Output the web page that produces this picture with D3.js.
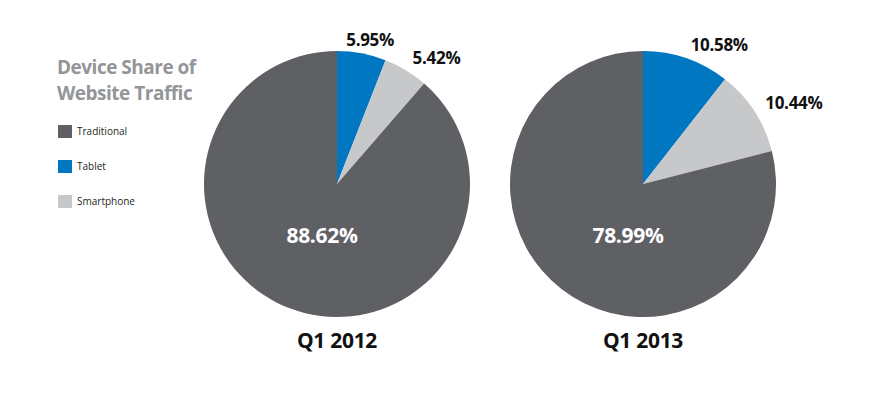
<!DOCTYPE html>
<html>
<head>
<meta charset="utf-8">
<script src="https://cdn.jsdelivr.net/npm/d3@7"></script>
<style>
  body { margin: 0; background: #fff; }
  text { font-family: "Open Sans", sans-serif; }
</style>
</head>
<body>
<div id="chart"></div>
<script>
// Canvas size
var w = 872;
var h = 395;

// Data
var categories = ["Tablet", "Smartphone", "Traditional"];
var legendOrder = ["Traditional", "Tablet", "Smartphone"];
var titleLines = ["Device Share of", "Website Traffic"];
var periods = ["Q1 2012", "Q1 2013"];
var share2012 = [5.95, 5.42, 88.62];
var share2013 = [10.58, 10.44, 78.99];
var colours = ["#0077c0", "#c7c8ca", "#5f6064"];

var seriesList = [share2012, share2013];

var color = d3.scaleOrdinal()
  .domain(categories)
  .range(colours);

// pie centres spread across the right part
var xScale = d3.scalePoint()
  .domain(periods)
  .range([337, 643]);

var cy = 184;
var radius = 133;

var svg = d3.select("#chart")
  .append("svg")
  .attr("width", w)
  .attr("height", h);

// Title, one text per line
svg.selectAll("text.title")
  .data(titleLines)
  .join("text")
  .attr("class", "title")
  .attr("x", 57)
  .attr("y", function(d, i) { return 74 + i * 26; })
  .attr("fill", "#939598")
  .attr("font-size", 19)
  .attr("font-weight", 700)
  .attr("letter-spacing", -0.5)
  .text(function(d) { return d; });

// Legend
var legend = svg.selectAll("g.legend")
  .data(legendOrder)
  .join("g")
  .attr("class", "legend")
  .attr("transform", function(d, i) { return "translate(58," + (125 + i * 35) + ")"; });

legend.append("rect")
  .attr("width", 14)
  .attr("height", 13)
  .attr("fill", function(d) { return color(d); });

legend.append("text")
  .attr("x", 19)
  .attr("y", 10)
  .attr("font-size", 10)
  .attr("fill", "#231f20")
  .text(function(d) { return d; });

var pie = d3.pie()
  .sort(null)
  .value(function(d) { return d.value; });

var arc = d3.arc()
  .innerRadius(0)
  .outerRadius(radius);

var labelArc = d3.arc()
  .innerRadius(146)
  .outerRadius(146);

seriesList.forEach(function(values, k) {
  var rows = categories.map(function(c, i) { return { name: c, value: values[i] }; });
  var arcs = pie(rows);

  var g = svg.append("g")
    .attr("transform", "translate(" + xScale(periods[k]) + "," + cy + ")");

  g.selectAll("path")
    .data(arcs)
    .join("path")
    .attr("d", arc)
    .attr("fill", function(d) { return color(d.data.name); });

  // small slice labels outside
  g.selectAll("text.outer")
    .data(arcs.filter(function(d) { return d.data.name != "Traditional"; }))
    .join("text")
    .attr("class", "outer")
    .attr("transform", function(d) {
      var c = labelArc.centroid(d);
      var mid = (d.startAngle + d.endAngle) / 2;
      // near the top the label sits centred a little to the right
      if (mid < 0.25) c[0] += 6;
      return "translate(" + c[0] + "," + c[1] + ")";
    })
    .attr("dy", "0.3em")
    .attr("text-anchor", function(d) {
      var mid = (d.startAngle + d.endAngle) / 2;
      return mid < 0.25 ? "middle" : "start";
    })
    .attr("font-size", 17)
    .attr("font-weight", 700)
    .attr("letter-spacing", -0.3)
    .attr("fill", "#111")
    .text(function(d) { return d.data.value.toFixed(2) + "%"; });

  // big slice label inside
  var big = arcs[2];
  g.append("text")
    .attr("x", -15)
    .attr("y", 59)
    .attr("text-anchor", "middle")
    .attr("font-size", 21)
    .attr("font-weight", 700)
    .attr("letter-spacing", -0.3)
    .attr("fill", "#fff")
    .text(big.data.value.toFixed(2) + "%");

  // period label under pie
  g.append("text")
    .attr("x", 0)
    .attr("y", 164)
    .attr("text-anchor", "middle")
    .attr("font-size", 21)
    .attr("font-weight", 700)
    .attr("letter-spacing", -0.3)
    .attr("fill", "#111")
    .text(periods[k]);
});
</script>
</body>
</html>
